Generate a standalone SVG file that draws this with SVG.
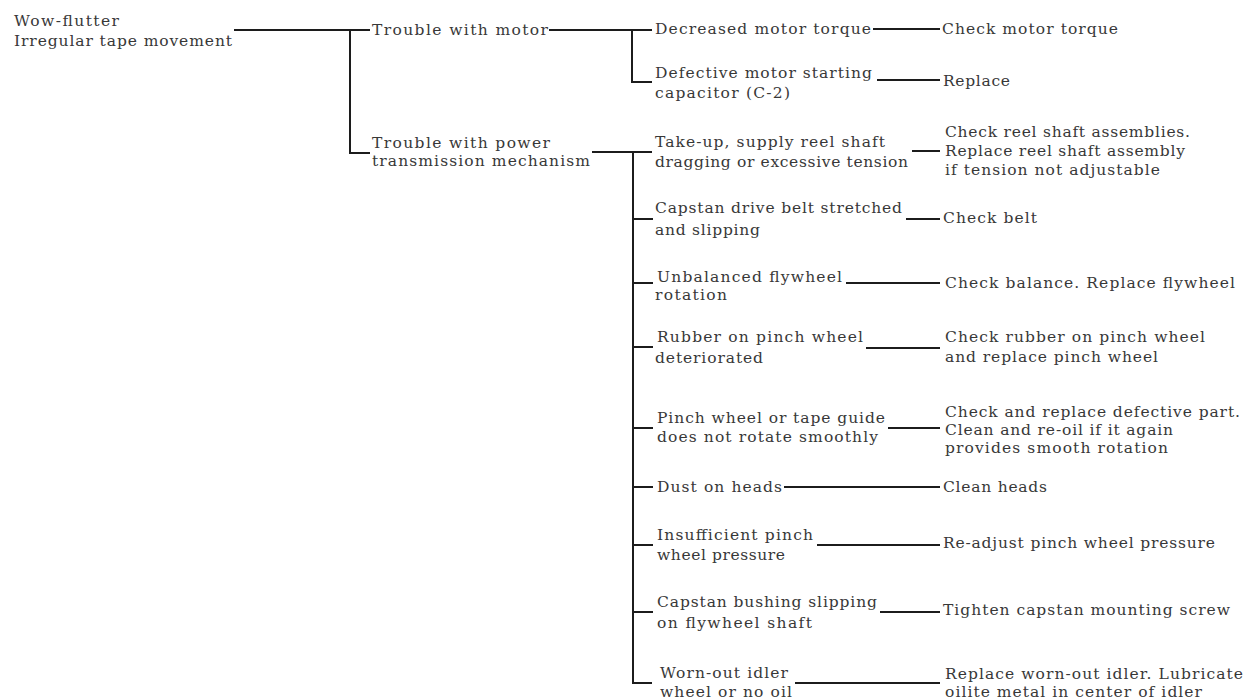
<svg xmlns="http://www.w3.org/2000/svg" width="1248" height="699" viewBox="0 0 1248 699">
<style>
  text { font-family: "DejaVu Serif", "Liberation Serif", serif; font-size: 15.5px; fill: #383838; }
  .c path { fill: none; stroke: #1c1c1c; stroke-width: 2; }
</style>
<rect x="0" y="0" width="1248" height="699" fill="#ffffff"/>
<g class="c" id="connectors">
  <path d="M234 30 H370"/>
  <path d="M350 30 V153 H370"/>
  <path d="M549 30 H652"/>
  <path d="M632 30 V82 H652"/>
  <path d="M873 29 H940"/>
  <path d="M877 80 H940"/>
  <path d="M592 152 H652"/>
  <path d="M633 152 V683 H652"/>
  <path d="M633 219 H653"/>
  <path d="M633 283 H653"/>
  <path d="M633 347 H653"/>
  <path d="M633 428 H653"/>
  <path d="M633 487 H653"/>
  <path d="M633 545 H653"/>
  <path d="M633 612 H653"/>
  <path d="M912 151 H940"/>
  <path d="M906 219 H940"/>
  <path d="M846 283 H940"/>
  <path d="M866 348 H940"/>
  <path d="M888 428 H940"/>
  <path d="M784 487 H940"/>
  <path d="M817 545 H940"/>
  <path d="M880 612 H940"/>
  <path d="M795 683 H940"/>
</g>
<g id="root">
  <text x="14" y="26" textLength="105" lengthAdjust="spacing">Wow-flutter</text>
  <text x="14" y="46" textLength="218" lengthAdjust="spacing">Irregular tape movement</text>
</g>
<g id="motor">
  <text x="372" y="35" textLength="176" lengthAdjust="spacing">Trouble with motor</text>
</g>
<g id="power">
  <text x="372" y="148" textLength="178" lengthAdjust="spacing">Trouble with power</text>
  <text x="372" y="166" textLength="218" lengthAdjust="spacing">transmission mechanism</text>
</g>
<g id="torque">
  <text x="655" y="34" textLength="216" lengthAdjust="spacing">Decreased motor torque</text>
</g>
<g id="torque-fix">
  <text x="942" y="34" textLength="176" lengthAdjust="spacing">Check motor torque</text>
</g>
<g id="capacitor">
  <text x="655" y="78" textLength="217" lengthAdjust="spacing">Defective motor starting</text>
  <text x="655" y="98" textLength="135" lengthAdjust="spacing">capacitor (C-2)</text>
</g>
<g id="capacitor-fix">
  <text x="943" y="86" textLength="67" lengthAdjust="spacing">Replace</text>
</g>
<g id="reel">
  <text x="655" y="147" textLength="230" lengthAdjust="spacing">Take-up, supply reel shaft</text>
  <text x="655" y="167" textLength="253" lengthAdjust="spacing">dragging or excessive tension</text>
</g>
<g id="reel-fix">
  <text x="945" y="137" textLength="245" lengthAdjust="spacing">Check reel shaft assemblies.</text>
  <text x="945" y="156" textLength="240" lengthAdjust="spacing">Replace reel shaft assembly</text>
  <text x="945" y="175" textLength="215" lengthAdjust="spacing">if tension not adjustable</text>
</g>
<g id="belt">
  <text x="655" y="213" textLength="247" lengthAdjust="spacing">Capstan drive belt stretched</text>
  <text x="655" y="235" textLength="105" lengthAdjust="spacing">and slipping</text>
</g>
<g id="belt-fix">
  <text x="943" y="223" textLength="94" lengthAdjust="spacing">Check belt</text>
</g>
<g id="flywheel">
  <text x="657" y="282" textLength="185" lengthAdjust="spacing">Unbalanced flywheel</text>
  <text x="655" y="300" textLength="72" lengthAdjust="spacing">rotation</text>
</g>
<g id="flywheel-fix">
  <text x="945" y="288" textLength="290" lengthAdjust="spacing">Check balance. Replace flywheel</text>
</g>
<g id="rubber">
  <text x="657" y="342" textLength="206" lengthAdjust="spacing">Rubber on pinch wheel</text>
  <text x="655" y="363" textLength="108" lengthAdjust="spacing">deteriorated</text>
</g>
<g id="rubber-fix">
  <text x="945" y="342" textLength="260" lengthAdjust="spacing">Check rubber on pinch wheel</text>
  <text x="945" y="362" textLength="213" lengthAdjust="spacing">and replace pinch wheel</text>
</g>
<g id="guide">
  <text x="657" y="423" textLength="228" lengthAdjust="spacing">Pinch wheel or tape guide</text>
  <text x="657" y="442" textLength="221" lengthAdjust="spacing">does not rotate smoothly</text>
</g>
<g id="guide-fix">
  <text x="945" y="417" textLength="295" lengthAdjust="spacing">Check and replace defective part.</text>
  <text x="945" y="435" textLength="228" lengthAdjust="spacing">Clean and re-oil if it again</text>
  <text x="945" y="453" textLength="223" lengthAdjust="spacing">provides smooth rotation</text>
</g>
<g id="dust">
  <text x="657" y="492" textLength="125" lengthAdjust="spacing">Dust on heads</text>
</g>
<g id="dust-fix">
  <text x="943" y="492" textLength="104" lengthAdjust="spacing">Clean heads</text>
</g>
<g id="pressure">
  <text x="657" y="540" textLength="156" lengthAdjust="spacing">Insufficient pinch</text>
  <text x="657" y="560" textLength="128" lengthAdjust="spacing">wheel pressure</text>
</g>
<g id="pressure-fix">
  <text x="943" y="548" textLength="272" lengthAdjust="spacing">Re-adjust pinch wheel pressure</text>
</g>
<g id="bushing">
  <text x="657" y="607" textLength="220" lengthAdjust="spacing">Capstan bushing slipping</text>
  <text x="657" y="628" textLength="155" lengthAdjust="spacing">on flywheel shaft</text>
</g>
<g id="bushing-fix">
  <text x="943" y="615" textLength="287" lengthAdjust="spacing">Tighten capstan mounting screw</text>
</g>
<g id="idler">
  <text x="660" y="678" textLength="128" lengthAdjust="spacing">Worn-out idler</text>
  <text x="660" y="697" textLength="132" lengthAdjust="spacing">wheel or no oil</text>
</g>
<g id="idler-fix">
  <text x="945" y="679" textLength="298" lengthAdjust="spacing">Replace worn-out idler. Lubricate</text>
  <text x="945" y="697" textLength="257" lengthAdjust="spacing">oilite metal in center of idler</text>
</g>
</svg>
